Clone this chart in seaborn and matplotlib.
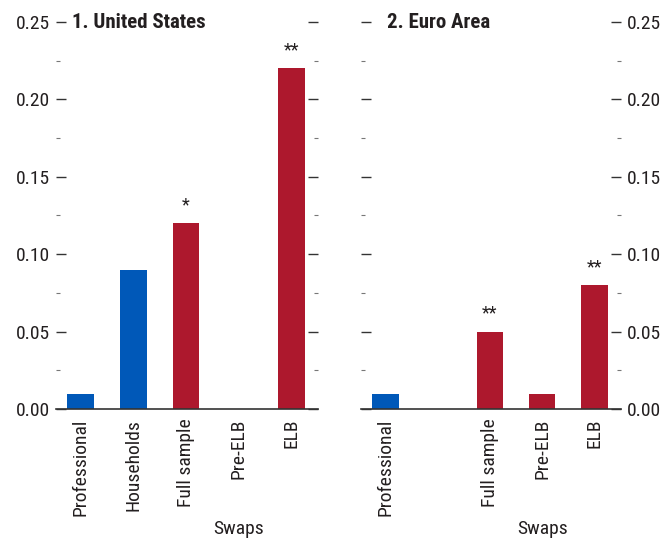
import numpy as np
import pandas as pd
import matplotlib
matplotlib.use("Agg")
import matplotlib.pyplot as plt
import matplotlib.transforms as mtransforms
from matplotlib.ticker import MultipleLocator, FormatStrFormatter
import seaborn as sns

categories = ["Professional", "Households", "Full sample", "Pre-ELB", "ELB"]
groups = ["Survey", "Survey", "Swaps", "Swaps", "Swaps"]
us_values = [0.01, 0.09, 0.12, np.nan, 0.22]
ea_values = [0.01, np.nan, 0.05, 0.01, 0.08]
us_stars = ["", "", "*", "", "**"]
ea_stars = ["", "", "**", "", "**"]
panel_titles = ["1. United States", "2. Euro Area"]
group_label = "Swaps"

palette = {"Survey": "#0058B8", "Swaps": "#AD182D"}

sns.set_theme(style="white")
plt.rcParams["font.family"] = ["Roboto Condensed", "DejaVu Sans"]
text_color = "#231f20"

fig = plt.figure(figsize=(6.64, 5.41), dpi=100)
ax1 = fig.add_axes([56 / 664, 1 - 409 / 541, 262 / 664, 387 / 541])
ax2 = fig.add_axes([361 / 664, 1 - 409 / 541, 260 / 664, 387 / 541])

panels = [
    (ax1, us_values, us_stars, panel_titles[0], True),
    (ax2, ea_values, ea_stars, panel_titles[1], False),
]

for ax, vals, stars, title, left_labels in panels:
    df = pd.DataFrame({"category": categories, "value": vals, "group": groups})
    sns.barplot(data=df, x="category", y="value", hue="group", order=categories,
                palette=palette, dodge=False, width=0.51, legend=False,
                saturation=1, linewidth=0, ax=ax)
    ax.set_xlim(-0.47, 4.51)
    ax.set_ylim(0, 0.25)
    ax.yaxis.set_major_locator(MultipleLocator(0.05))
    ax.yaxis.set_minor_locator(MultipleLocator(0.025))
    ax.yaxis.set_major_formatter(FormatStrFormatter("%.2f"))
    for s in ["top", "left", "right"]:
        ax.spines[s].set_visible(False)
    ax.spines["bottom"].set_color("#333333")
    ax.spines["bottom"].set_linewidth(1.2)
    ax.set_xlabel("")
    ax.set_ylabel("")
    ax.tick_params(axis="y", which="major", direction="in", length=7, width=1.0,
                   color="#333333", left=True, right=True,
                   labelleft=left_labels, labelright=not left_labels,
                   labelsize=14, labelcolor=text_color, pad=4)
    ax.tick_params(axis="y", which="minor", direction="in", length=3, width=0.8,
                   color="#777777", left=True, right=True)
    ax.tick_params(axis="x", which="both", bottom=False, labelsize=14,
                   labelcolor=text_color, pad=1)
    ax.set_xticks(range(len(categories)))
    ax.set_xticklabels(categories, rotation=90)
    for lbl, v, cat in zip(ax.get_xticklabels(), vals, categories):
        if cat == "Households" and np.isnan(v) and not left_labels:
            lbl.set_visible(False)
    for i, (v, st) in enumerate(zip(vals, stars)):
        if st and not np.isnan(v):
            ax.text(i, v + 0.006, st, ha="center", va="bottom", fontsize=13,
                    color=text_color)
    ax.text(0.06 if left_labels else 0.10, 1.0, title, transform=ax.transAxes,
            ha="left", va="center", fontsize=15, fontweight="bold",
            color=text_color)
    trans = mtransforms.blended_transform_factory(ax.transData, ax.transAxes)
    ax.text(categories.index("Pre-ELB"), -0.31, group_label, transform=trans,
            ha="center", va="center", fontsize=14, color=text_color)
    ax.set_facecolor("white")

fig.savefig("out.png", dpi=100, facecolor="white")
